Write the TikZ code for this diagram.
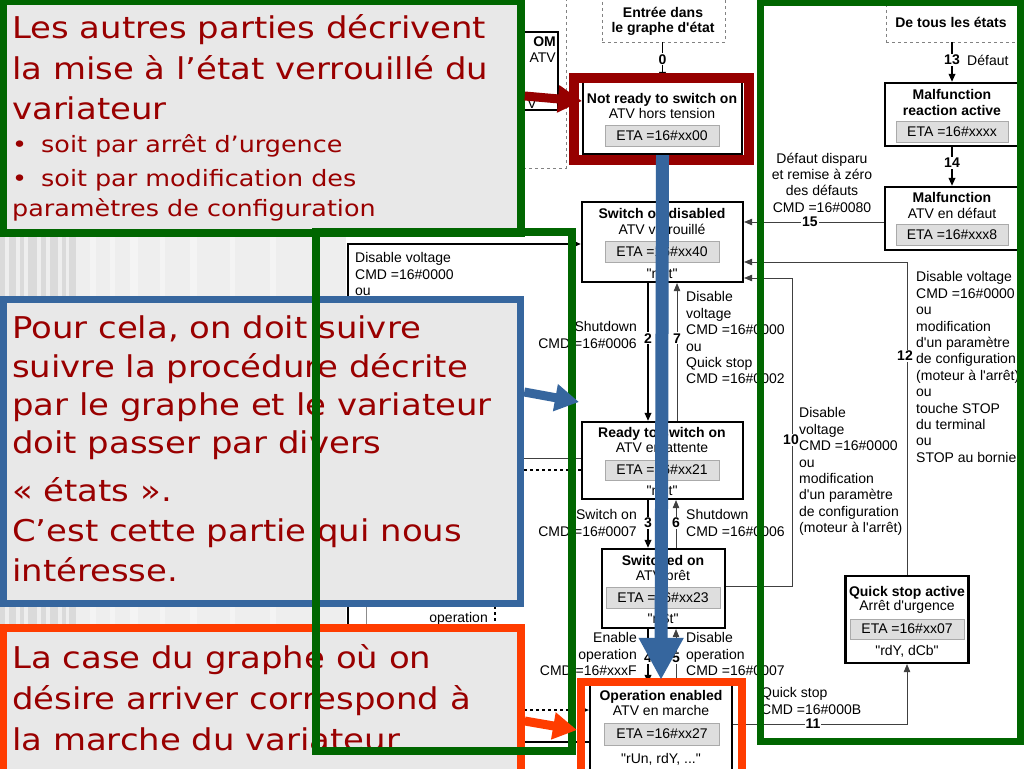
\documentclass[tikz,border=0pt]{standalone}
\usepackage{fontspec}
\usetikzlibrary{arrows.meta,calc}
\newfontfamily\dfont{Liberation Sans}
\newfontfamily\sfont[FakeStretch=1.13]{DejaVu Sans}
\definecolor{gr}{RGB}{0,102,0}
\definecolor{bl}{RGB}{54,102,158}
\definecolor{orng}{RGB}{255,60,0}
\definecolor{dred}{RGB}{150,0,0}
\definecolor{txtred}{RGB}{153,0,0}
\definecolor{boxfill}{RGB}{232,232,232}
\definecolor{etafill}{RGB}{222,222,222}
\definecolor{etaline}{RGB}{170,170,170}
\definecolor{dashgray}{RGB}{130,130,130}
\definecolor{bgA}{RGB}{238,238,238}
\definecolor{bgB}{RGB}{218,218,218}
\definecolor{bgC}{RGB}{244,244,244}
\tikzset{
  dt/.style={font=\dfont\fontsize{14}{16.4}\selectfont, inner sep=0pt, text=black},
  dtb/.style={font=\dfont\bfseries\fontsize{14}{16.4}\selectfont, inner sep=0pt, text=black},
  lbl/.style={font=\dfont\bfseries\fontsize{14}{16.4}\selectfont, inner sep=1pt, fill=white, text=black},
  statebox/.style={draw=black, line width=2.2pt, fill=white, inner sep=0pt},
  etabox/.style={draw=etaline, fill=etafill, line width=0.8pt, inner sep=0pt,
     font=\dfont\fontsize{14}{16.4}\selectfont},
  dashbox/.style={draw=dashgray, dashed, line width=0.8pt, fill=white, inner sep=0pt},
  thk/.style={draw=black, line width=1.8pt},
  thn/.style={draw=black!75, line width=0.7pt},
  arr/.style={-{Triangle[length=8pt,width=6.5pt]}},
  slidebig/.style={font=\sfont\fontsize{30}{36}\selectfont, text=txtred, inner sep=0pt, anchor=base west},
  slidesmall/.style={font=\sfont\fontsize{22.5}{27}\selectfont, text=txtred, inner sep=0pt, anchor=base west},
  slidebox/.style={line width=8pt, fill=boxfill, inner sep=0pt},
  bigarrow/.style={line width=9pt, -{Triangle[length=24pt,width=26pt]}}
}
\begin{document}
\begin{tikzpicture}[x=1pt,y=-1pt]
\useasboundingbox (0,0) rectangle (1024,768);
\clip (0,0) rectangle (1024,768);
\fill[white] (0,0) rectangle (1024,768);
% slide background on the left
\fill[bgA] (0,0) rectangle (346,768);
\foreach \x/\w in {0/5,9/7,20/4,28/9,41/5,50/8,62/4,69/7}{\fill[bgB] (\x,0) rectangle (\x+\w,768);}
\foreach \x/\w in {90/6,110/5,130/8,160/5,190/7,230/5,270/6}{\fill[bgC] (\x,0) rectangle (\x+\w,768);}

% ---------- underlying state graph ----------
% top left dashed region and partial box
\draw[dashgray, dashed, line width=0.8pt, fill=white] (360,-5) rectangle (566,168);
\node[statebox, minimum width=100, minimum height=78] (om) at (508,71) {};
\node[dtb, anchor=base east] at (556,47) {OM};
\node[dt, anchor=base east] at (556,63) {ATV};
\node[dt, anchor=base east] at (537,108) {V};

% entry boxes
\node[dashbox, minimum width=123, minimum height=47] (entry) at (663.5,18.5) {};
\node[dtb, anchor=base] at (663,18) {Entrée dans};
\node[dtb, anchor=base] at (663,33) {le graphe d'état};
\node[dashbox, minimum width=140, minimum height=47] (dte) at (956,18.5) {};
\node[dtb, anchor=base] at (951,28) {De tous les états};

% states
\node[statebox, minimum width=159, minimum height=73] (nr) at (662.5,117.5) {};
\node[dtb, anchor=base] at (662,103) {Not ready to switch on};
\node[dt, anchor=base] at (662,118) {ATV hors tension};
\node[etabox, minimum width=114, minimum height=21] (nreta) at (662,135.5) {ETA =16\#xx00};

\node[statebox, minimum width=161, minimum height=80] (sod) at (662.5,242) {};
\node[dtb, anchor=base] at (662,218) {Switch on disabled};
\node[dt, anchor=base] at (662,234) {ATV verrouillé};
\node[etabox, minimum width=114, minimum height=21] (sodeta) at (662,251.5) {ETA =16\#xx40};
\node[dt, anchor=base] at (662,278) {"nSt"};

\node[statebox, minimum width=161, minimum height=77] (rts) at (662.5,460.5) {};
\node[dtb, anchor=base] at (662,437) {Ready to switch on};
\node[dt, anchor=base] at (662,452) {ATV en attente};
\node[etabox, minimum width=114, minimum height=20] (rtseta) at (662,470) {ETA =16\#xx21};
\node[dt, anchor=base] at (662,495) {"nSt"};

\node[statebox, minimum width=123, minimum height=79] (so) at (663.5,588.5) {};
\node[dtb, anchor=base] at (663,565) {Switched on};
\node[dt, anchor=base] at (663,580) {ATV prêt};
\node[etabox, minimum width=114, minimum height=21] (soeta) at (663,597.5) {ETA =16\#xx23};
\node[dt, anchor=base] at (663,623) {"nSt"};

\node[statebox, minimum width=142, minimum height=95] (oe) at (661,731.5) {};
\node[dtb, anchor=base] at (661,700) {Operation enabled};
\node[dt, anchor=base] at (661,715) {ATV en marche};
\node[etabox, minimum width=115, minimum height=22] (oeeta) at (662,734) {ETA =16\#xx27};
\node[dt, anchor=base] at (661,763) {"rUn, rdY, ..."};

\node[statebox, minimum width=134, minimum height=63] (mra) at (952,114.5) {};
\node[dtb, anchor=base] at (952,99) {Malfunction};
\node[dtb, anchor=base] at (952,115) {reaction active};
\node[etabox, minimum width=112, minimum height=21] (mraeta) at (952,131.5) {ETA =16\#xxxx};

\node[statebox, minimum width=134, minimum height=63] (mf) at (952,218.5) {};
\node[dtb, anchor=base] at (952,202) {Malfunction};
\node[dt, anchor=base] at (952,218) {ATV en défaut};
\node[etabox, minimum width=112, minimum height=21] (mfeta) at (952,234.5) {ETA =16\#xxx8};

\node[statebox, minimum width=123, minimum height=87] (qsa) at (907,619.5) {};
\node[dtb, anchor=base] at (907,596) {Quick stop active};
\node[dt, anchor=base] at (907,610) {Arrêt d'urgence};
\node[etabox, minimum width=114, minimum height=20] (qsaeta) at (907,629) {ETA =16\#xx07};
\node[dt, anchor=base] at (907,655) {"rdY, dCb"};

% transitions
\draw[thk, arr] (nr.north |- entry.south) -- (nr.north) node[lbl, pos=0.45] {0};
\draw[thk, arr] (648,0 |- sod.south) -- (648,0 |- rts.north) node[lbl, pos=0.4] {2};
\draw[thn, arr] (677,0 |- rts.north) -- (677,0 |- sod.south) node[lbl, pos=0.6] {7};
\draw[thk, arr] (648,0 |- rts.south) -- (648,0 |- so.north) node[lbl, pos=0.48] {3};
\draw[thn, arr] (676,0 |- so.north) -- (676,0 |- rts.south) node[lbl, pos=0.52] {6};
\draw[thk, arr] (648,0 |- so.south) -- (648,0 |- oe.north) node[lbl, pos=0.54] {4};
\draw[thn, arr] (676,0 |- oe.north) -- (676,0 |- so.south) node[lbl, pos=0.46] {5};
\draw[thk, arr] (mra.north |- dte.south) -- (mra.north) node[lbl, pos=0.44] {13};
\draw[thk, arr] (mra.south) -- (mf.north) node[lbl, pos=0.41] {14};
\draw[thn, arr] (mf.west |- 0,222) -- (sod.east |- 0,222) node[lbl, pos=0.53] {15};
\draw[thn, arr] (qsa.north) -- (907,262) -- (sod.east |- 0,262);
\node[lbl] at (905,356) {12};
\draw[thn, arr] (so.east |- 0,586) -- (792,586) -- (792,278) -- (sod.east |- 0,278);
\node[lbl] at (791,440) {10};
\draw[thn, arr] (oe.east |- 0,724) -- (907,724) -- (qsa.south);
\node[lbl] at (813,724) {11};

% left frame and other partial connectors
\coordinate (lf) at (348,768);
\draw[thk, arr] (lf) -- (348,244) -- (sod.west |- 0,244);
\coordinate (gl) at (366,470);
\draw[draw=black!45, line width=0.8pt] (gl) -- (366,768);
\coordinate (la) at (500,458);
\coordinate (lb) at (500,470);
\draw[thn] (la) -- (rts.west |- la);
\draw[thk, dashed, line width=1.3pt] (lb) -- (rts.west |- lb);
\coordinate (lc) at (500,710);
\coordinate (ld) at (500,742);
\draw[thk, dashed, line width=1.3pt, arr] (lc) -- (oe.west |- lc);
\draw[thk, line width=1.3pt] (ld) -- (oe.west |- ld);
\coordinate (le) at (495,600);
\draw[thk, dashed, line width=1.3pt] (le) -- (495,640);
\node[dt, anchor=base east] (opl) at (488,622) {operation};

% transition texts
\node[dt, align=left, anchor=north west] (t12) at (916,271.5) {Disable voltage\\CMD =16\#0000\\ou\\modification\\d'un paramètre\\de configuration\\(moteur à l'arrêt)\\ou\\touche STOP\\du terminal\\ou\\STOP au bornier};
\node[dt, align=left, anchor=north west] (t10) at (799,407.5) {Disable\\voltage\\CMD =16\#0000\\ou\\modification\\d'un paramètre\\de configuration\\(moteur à l'arrêt)};
\node[dt, align=left, anchor=north west] (t7) at (686,291.5) {Disable\\voltage\\CMD =16\#0000\\ou\\Quick stop\\CMD =16\#0002};
\node[dt, align=right, anchor=north east] (t2) at (637,321.5) {Shutdown\\CMD =16\#0006};
\node[dt, align=right, anchor=north east] (t3) at (637,509.5) {Switch on\\CMD =16\#0007};
\node[dt, align=left, anchor=north west] (t6) at (686,509.5) {Shutdown\\CMD =16\#0006};
\node[dt, align=right, anchor=north east] (t4) at (637,632.5) {Enable\\operation\\CMD =16\#xxxF};
\node[dt, align=left, anchor=north west] (t5) at (686,632.5) {Disable\\operation\\CMD =16\#0007};
\node[dt, align=left, anchor=north west] (t11) at (761,687.5) {Quick stop\\CMD =16\#000B};
\node[dt, align=center, anchor=north] (t15) at (822,152.5) {Défaut disparu\\et remise à zéro\\des défauts\\CMD =16\#0080};
\node[dt, align=left, anchor=north west] (tl) at (355,252.5) {Disable voltage\\CMD =16\#0000\\ou};
\node[dt, anchor=base west] (t13) at (967,65) {Défaut};

% ---------- slide overlays ----------
\draw[dred, line width=10pt] (574,78) rectangle (749,160);
\draw[orng, line width=8pt] (580.5,682) rectangle (742,800);
\draw[bl, line width=13pt, -{Triangle[length=42pt,width=42pt]}] (nr.south) -- ($(oe.north)+(0,-3)$);

\node[slidebox, draw=gr, minimum width=517.5, minimum height=232] (box1) at (262,117) {};
\node[slidebox, draw=bl, line width=7pt, minimum width=517.5, minimum height=304] (box2) at (262,451) {};
\node[slidebox, draw=orng, minimum width=517.5, minimum height=172] (box3) at (262,714) {};

\node[slidebig] at (12,38) {Les autres parties décrivent};
\node[slidebig] at (12,79) {la mise à l’état verrouillé du};
\node[slidebig] at (12,119) {variateur};
\node[slidesmall] at (12,152) {•};
\node[slidesmall] at (41,152) {soit par arrêt d’urgence};
\node[slidesmall] at (12,186) {•};
\node[slidesmall] at (41,186) {soit par modification des};
\node[slidesmall] at (12,216) {paramètres de configuration};

\node[slidebig] at (12,338) {Pour cela, on doit suivre};
\node[slidebig] at (12,377) {suivre la procédure décrite};
\node[slidebig] at (12,415) {par le graphe et le variateur};
\node[slidebig] at (12,453) {doit passer par divers};
\node[slidebig] at (12,501) {« états ».};
\node[slidebig] at (12,541) {C’est cette partie qui nous};
\node[slidebig] at (12,581) {intéresse.};

\node[slidebig] at (12,668) {La case du graphe où on};
\node[slidebig] at (12,709) {désire arriver correspond à};
\node[slidebig] at (12,750) {la marche du variateur};

\draw[gr, line width=8pt] (316,232) rectangle (572,750.5);
\draw[gr, line width=7pt] (760,3) rectangle (1020,741);

\coordinate (redtip) at (582,101);
\coordinate (bluetip) at (579,402);
\coordinate (orngtip) at (577,730);
\draw[dred, bigarrow] (box1.east |- 0,96) -- (redtip);
\draw[bl, bigarrow] (box2.east |- 0,392) -- (bluetip);
\draw[orng, bigarrow] (box3.east |- 0,721) -- (orngtip);
\end{tikzpicture}
\end{document}
